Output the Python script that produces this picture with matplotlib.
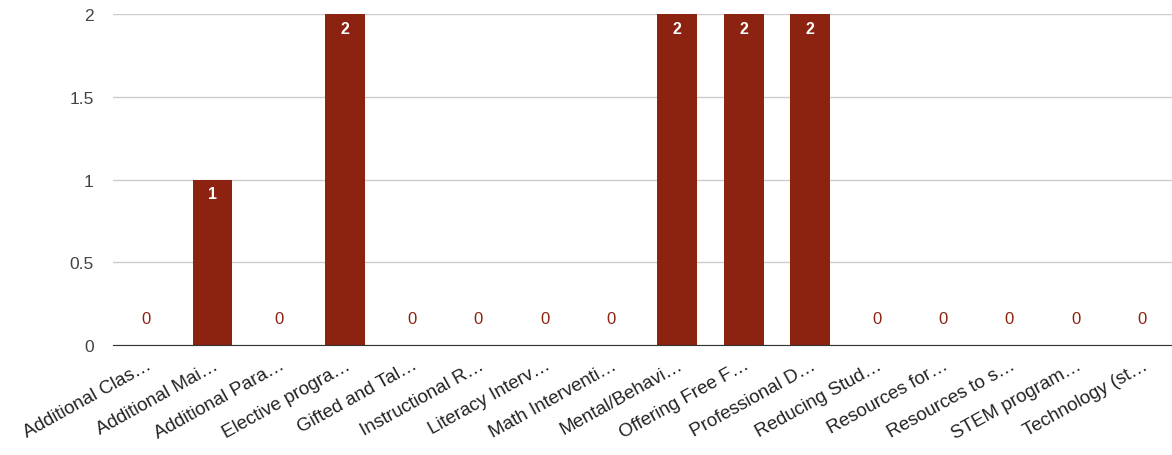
import numpy as np
import matplotlib.pyplot as plt

plt.rcParams["font.family"] = ["Liberation Sans", "DejaVu Sans"]

# Data
categories = [
    "Additional Clas…", "Additional Mai…", "Additional Para…", "Elective progra…",
    "Gifted and Tal…", "Instructional R…", "Literacy Interv…", "Math Interventi…",
    "Mental/Behavi…", "Offering Free F…", "Professional D…", "Reducing Stud…",
    "Resources for…", "Resources to s…", "STEM program…", "Technology (st…",
]
counts = [0, 1, 0, 2, 0, 0, 0, 0, 2, 2, 2, 0, 0, 0, 0, 0]

bar_color = "#8c2210"

fig = plt.figure(figsize=(11.72, 4.56), dpi=100)
ax = fig.add_axes([0.0964, 0.241, 0.9036, 0.726])

x = np.arange(len(categories))
ax.bar(x, counts, width=0.6, color=bar_color, zorder=3)

# Value labels
for xi, v in zip(x, counts):
    if v > 0:
        ax.text(xi, v - 0.04, str(v), ha="center", va="top", color="white",
                fontsize=11.5, fontweight="bold", zorder=4)
    else:
        ax.text(xi, 0.16, str(v), ha="center", va="center", color=bar_color,
                fontsize=12, zorder=4)

# Formatting
ax.set_ylim(0, 2)
ax.set_xlim(-0.5, 15.45)
ax.set_yticks([0, 0.5, 1, 1.5, 2])
ax.set_yticklabels(["0", "0.5", "1", "1.5", "2"])
ax.yaxis.grid(True, color="#cccccc", linewidth=1, zorder=0)
ax.set_xticks(x)
ax.set_xticklabels(categories, rotation=29, ha="right", rotation_mode="anchor",
                   fontsize=13.5, color="#222222")
ax.tick_params(axis="y", length=0, pad=14, labelsize=12.5, labelcolor="#444444")
ax.tick_params(axis="x", length=0, pad=8)
for side in ["top", "right", "left"]:
    ax.spines[side].set_visible(False)
ax.spines["bottom"].set_color("#333333")
ax.spines["bottom"].set_zorder(5)

plt.savefig("out.png", dpi=100)
